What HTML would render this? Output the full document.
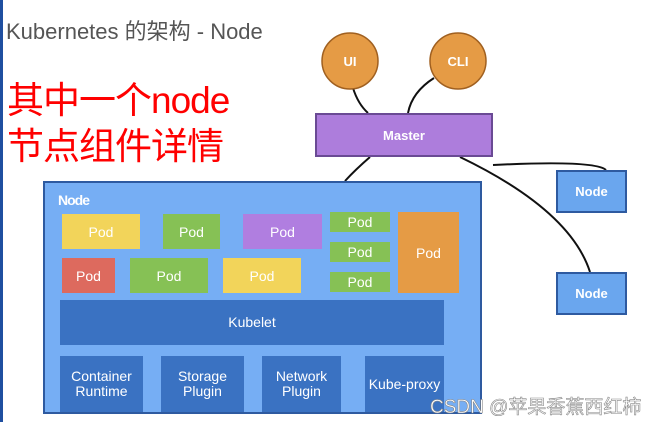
<!DOCTYPE html><html><head><meta charset="utf-8"><style>
body{margin:0;width:657px;height:422px;background:#fff;position:relative;overflow:hidden;font-family:"Liberation Sans","Noto Sans CJK SC",sans-serif}
.a{position:absolute;display:flex;align-items:center;justify-content:center;color:#fff;text-align:center;box-sizing:border-box}
.p{font-size:14px}
.b{background:#3a72c2;font-size:14px;line-height:15px}
</style></head><body>
<div style="position:absolute;left:0;top:0;width:3px;height:422px;background:#1f4fa0"></div>
<div style="position:absolute;left:6px;top:14px;font-size:22px;color:#555">Kubernetes 的架构 - Node</div>
<div style="position:absolute;left:7px;top:78px;font-size:37px;line-height:46px;color:#f00;letter-spacing:-1px">其中一个node<br>节点组件详情</div>
<svg width="657" height="422" style="position:absolute;left:0;top:0">
<g fill="none" stroke="#111" stroke-width="2">
<path d="M353 88 Q358 104 368 113"/>
<path d="M434 78 Q412 92 408 113"/>
<path d="M370 157 Q355 170 345 181"/>
<path d="M493 165 Q595 160 606 170"/>
<path d="M460 157 Q570 210 590 272"/>
</g>
<circle cx="350" cy="61" r="28" fill="#e59b45" stroke="#a06020" stroke-width="1.5"/>
<circle cx="458" cy="61" r="28" fill="#e59b45" stroke="#a06020" stroke-width="1.5"/>
<text x="350" y="66" fill="#fff" font-size="13" font-weight="bold" text-anchor="middle" font-family="Liberation Sans">UI</text>
<text x="458" y="66" fill="#fff" font-size="13" font-weight="bold" text-anchor="middle" font-family="Liberation Sans">CLI</text>
</svg>
<div class="a" style="left:315px;top:113px;width:178px;height:44px;background:#ad7ddc;border:2px solid #6a4a94;font-size:13px;font-weight:bold">Master</div>
<div class="a" style="left:556px;top:170px;width:71px;height:43px;background:#6aa6ee;border:2px solid #2e5aa0;font-size:13px;font-weight:bold">Node</div>
<div class="a" style="left:556px;top:272px;width:71px;height:43px;background:#6aa6ee;border:2px solid #2e5aa0;font-size:13px;font-weight:bold">Node</div>
<div style="position:absolute;left:43px;top:181px;width:439px;height:233px;background:#76aef4;border:2px solid #2e5aa0;box-sizing:border-box"></div>
<div style="position:absolute;left:58px;top:192px;color:#fff;font-weight:bold;font-size:14px;letter-spacing:-1px">Node</div>
<div class="a p" style="left:62px;top:214px;width:78px;height:35px;background:#f2d45a">Pod</div>
<div class="a p" style="left:163px;top:214px;width:57px;height:35px;background:#86c155">Pod</div>
<div class="a p" style="left:243px;top:214px;width:79px;height:35px;background:#b07ee0">Pod</div>
<div class="a p" style="left:330px;top:212px;width:60px;height:20px;background:#86c155">Pod</div>
<div class="a p" style="left:330px;top:242px;width:60px;height:20px;background:#86c155">Pod</div>
<div class="a p" style="left:330px;top:272px;width:60px;height:20px;background:#86c155">Pod</div>
<div class="a p" style="left:398px;top:212px;width:61px;height:81px;background:#e59b45">Pod</div>
<div class="a p" style="left:62px;top:258px;width:53px;height:35px;background:#dd6a5e">Pod</div>
<div class="a p" style="left:130px;top:258px;width:78px;height:35px;background:#86c155">Pod</div>
<div class="a p" style="left:223px;top:258px;width:78px;height:35px;background:#f2d45a">Pod</div>
<div class="a b" style="left:60px;top:300px;width:384px;height:45px">Kubelet</div>
<div class="a b" style="left:60px;top:356px;width:83px;height:56px">Container<br>Runtime</div>
<div class="a b" style="left:161px;top:356px;width:83px;height:56px">Storage<br>Plugin</div>
<div class="a b" style="left:262px;top:356px;width:79px;height:56px">Network<br>Plugin</div>
<div class="a b" style="left:365px;top:356px;width:79px;height:56px">Kube-proxy</div>
<div style="position:absolute;left:430px;top:392px;font-size:19px;color:#fff;-webkit-text-stroke:0.6px #888">CSDN @苹果香蕉西红柿</div>
</body></html>
